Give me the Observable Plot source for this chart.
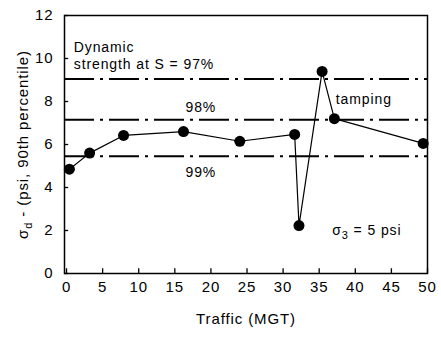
<!DOCTYPE html>
<html><head><meta charset="utf-8">
<script src="https://cdn.jsdelivr.net/npm/d3@7"></script>
<script src="https://cdn.jsdelivr.net/npm/@observablehq/plot@0.6"></script>
<style>
body{margin:0;background:#fff}
svg text{letter-spacing:0.9px}
</style>
</head><body><div id="chart"></div>
<script>
// data
const traffic = [0.4, 3.2, 7.9, 16.2, 24.0, 31.6, 32.2, 35.4, 37.1, 49.4];
const stress  = [4.85, 5.6, 6.42, 6.6, 6.15, 6.47, 2.23, 9.4, 7.2, 6.05];
const strengthLevels = [9.05, 7.15, 5.45];
const xTicks = [0, 5, 10, 15, 20, 25, 30, 35, 40, 45, 50];
const yTicks = [0, 2, 4, 6, 8, 10, 12];
const noteText   = ["Dynamic", "strength at S = 97%", "98%", "99%", "tamping", "σ3 = 5 psi"];
const noteX      = [1.0, 1.0, 18.6, 18.6, 37.3, 36.8];
const noteY      = [10.5, 9.7, 7.72, 4.72, 8.1, 2.0];
const noteCenter = [false, false, true, true, false, false];

const points = traffic.map((t, i) => ({t, s: stress[i]}));
const notes = noteText.map((text, i) => ({text, x: noteX[i], y: noteY[i], c: noteCenter[i]}));

const chart = Plot.plot({
  width: 441, height: 340,
  marginLeft: 64, marginRight: 14, marginTop: 15, marginBottom: 67,
  style: {fontFamily: "'Liberation Sans', Arial, sans-serif", fontSize: "15px", color: "#000", background: "#fff"},
  x: {domain: [-0.28, 50]},
  y: {domain: [0, 12]},
  marks: [
    Plot.ruleY(strengthLevels, {y: d => d, stroke: "#000", strokeWidth: 2, strokeDasharray: "30,6,3,6"}),
    Plot.line(points, {x: "t", y: "s", stroke: "#000", strokeWidth: 1.2}),
    Plot.dot(points, {x: "t", y: "s", r: 5.5, fill: "#000", stroke: "none"}),
    Plot.ruleX(xTicks, {x: d => d, y1: 0, y2: 0.22, stroke: "#000", strokeWidth: 1.3}),
    Plot.ruleY(yTicks, {y: d => d, x1: -0.28, x2: 0.3, stroke: "#000", strokeWidth: 1.3}),
    Plot.frame({stroke: "#000", strokeWidth: 1.5}),
    Plot.text(notes.filter(d => !d.c), {x: "x", y: "y", text: "text", textAnchor: "start", fontSize: 14, fill: "#000"}),
    Plot.text(notes.filter(d => d.c), {x: "x", y: "y", text: "text", textAnchor: "middle", fontSize: 14, fill: "#000"}),
    Plot.axisX(xTicks, {tickSize: 0, tickPadding: 8, fontSize: 15, fill: "#000", label: "Traffic (MGT)", labelAnchor: "center", labelOffset: 50, labelArrow: "none"}),
    Plot.axisY(yTicks, {tickSize: 0, tickPadding: 11, fontSize: 15, fill: "#000", label: "σd - (psi, 90th percentile)", labelAnchor: "center", labelOffset: 47, labelArrow: "none"})
  ]
});
document.getElementById("chart").appendChild(chart);
// subscripts: d in the y-axis title, 3 in the confining-stress note
for (const t of chart.querySelectorAll("text")) {
  if (t.textContent.includes("90th")) {
    t.innerHTML = "σ<tspan dy='4' font-size='11'>d</tspan><tspan dy='-4'> - (psi, 90th percentile)</tspan>";
  } else if (t.textContent === "σ3 = 5 psi") {
    t.innerHTML = "σ<tspan dy='4' font-size='11'>3</tspan><tspan dy='-4'> = 5 psi</tspan>";
  }
}
</script>
</body></html>
